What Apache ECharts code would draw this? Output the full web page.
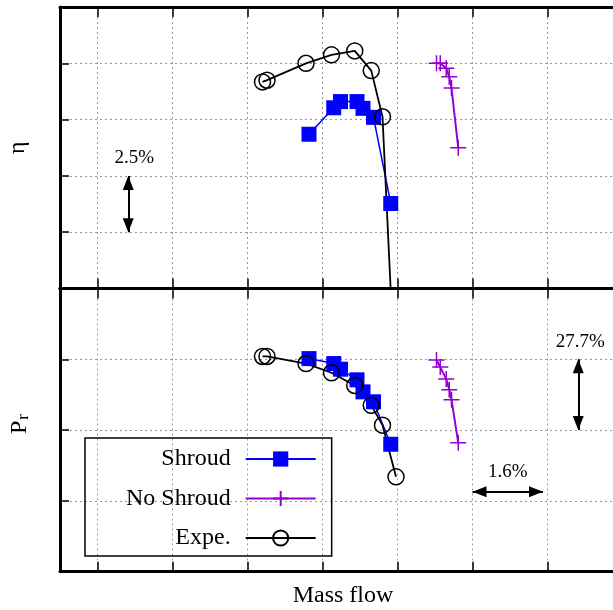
<!DOCTYPE html>
<html>
<head>
<meta charset="utf-8">
<script src="https://cdn.jsdelivr.net/npm/echarts@6/dist/echarts.min.js"></script>
<style>html,body{margin:0;padding:0;background:#fff}#c{width:613px;height:610px}</style>
</head>
<body>
<div id="c"></div>
<script>
// Mass flow (grid units; tick spacing = one unit)
const massFlowExpe = [2.20, 2.26, 2.78, 3.12, 3.43, 3.65, 3.80, 3.98];
const etaExpe      = [3.67, 3.70, 4.00, 4.15, 4.22, 3.87, 3.05, -2.02];
const prExpe       = [3.04, 3.04, 2.94, 2.81, 2.63, 2.35, 2.07, 1.34];

const massFlowShroud = [2.82, 3.15, 3.24, 3.46, 3.54, 3.68, 3.91];
const etaShroud      = [2.74, 3.21, 3.32, 3.32, 3.20, 3.04, 1.51];
const prShroud       = [3.01, 2.94, 2.86, 2.71, 2.54, 2.40, 1.80];

const massFlowNoShroud = [4.52, 4.57, 4.65, 4.69, 4.72, 4.81];
const etaNoShroud      = [4.00, 4.00, 3.91, 3.76, 3.56, 2.50];
const prNoShroud       = [2.99, 2.89, 2.72, 2.57, 2.43, 1.82];

const seriesNames = ['Shroud', 'No Shroud', 'Expe.'];
const scaleLabels = ['2.5%', '27.7%', '1.6%'];

const FONT = 'Liberation Serif';
const zip = (xs, ys) => xs.map((x, i) => [x, ys[i]]);
const CROSS = 'path://M8,0 L8,16 M0,8 L16,8';

function xAxisDef(grid, pos, split) {
  return {
    type: 'value', gridIndex: grid, position: pos,
    min: -0.5, max: 7.5, splitNumber: 8, minInterval: 1, maxInterval: 1,
    axisLine: { onZero: false, lineStyle: { color: '#000', width: 3 } },
    axisTick: { inside: true, length: 10, lineStyle: { color: '#000', width: 1.5 } },
    axisLabel: { show: false },
    splitLine: { show: split, lineStyle: { color: '#999', width: 1, type: [2, 3] } }
  };
}
function yAxisDef(grid, max) {
  return {
    type: 'value', gridIndex: grid, min: 0, max: max, interval: 1,
    axisLine: { onZero: false, lineStyle: { color: '#000', width: 3 } },
    axisTick: { inside: true, length: 9, lineStyle: { color: '#000', width: 1.5 } },
    axisLabel: { show: false },
    splitLine: { show: true, lineStyle: { color: '#999', width: 1, type: [2, 3] } },
    nameLocation: 'middle', nameRotate: 90
  };
}

const mlBase = {
  silent: true,
  symbol: ['triangle', 'triangle'],
  symbolSize: [11, 14],
  symbolOffset: [[0, 7], [0, 7]],
  lineStyle: { color: '#000', width: 2, type: 'solid' },
  label: { color: '#000', fontFamily: FONT, fontSize: 19, distance: 8 }
};

function shroud(grid, ys) {
  return {
    name: seriesNames[0], type: 'line', xAxisIndex: grid * 2, yAxisIndex: grid,
    data: zip(massFlowShroud, ys), symbol: 'rect', symbolSize: 15,
    itemStyle: { color: '#0000ff' }, lineStyle: { color: '#0000ff', width: 1.5 },
    animation: false
  };
}
function noShroud(grid, ys) {
  return {
    name: seriesNames[1], type: 'line', xAxisIndex: grid * 2, yAxisIndex: grid,
    data: zip(massFlowNoShroud, ys), symbol: CROSS, symbolSize: 16,
    itemStyle: { color: 'rgba(0,0,0,0)', borderColor: '#9400d3', borderWidth: 1.5 },
    lineStyle: { color: '#9400d3', width: 2 },
    animation: false
  };
}
function expe(grid, ys, markLine) {
  return {
    name: seriesNames[2], type: 'line', xAxisIndex: grid * 2, yAxisIndex: grid,
    data: zip(massFlowExpe, ys), symbol: 'circle', symbolSize: 16,
    itemStyle: { color: 'rgba(0,0,0,0)', borderColor: '#000', borderWidth: 1.5 },
    lineStyle: { color: '#000', width: 1.8 },
    markLine: markLine, animation: false
  };
}

const chart = echarts.init(document.getElementById('c'), null, { renderer: 'canvas' });
const yTop = yAxisDef(0, 5);
yTop.name = 'η';
yTop.nameGap = 30;
yTop.nameTextStyle = { fontFamily: FONT, fontSize: 24, color: '#000', padding: [0, 0, 0, 0] };
const yBot = yAxisDef(1, 4);
yBot.name = '{p|P}{s|r}';
yBot.nameGap = 28;
yBot.nameTextStyle = {
  color: '#000',
  padding: [0, 0, 0, 12],
  rich: {
    p: { fontFamily: FONT, fontSize: 24, color: '#000', lineHeight: 24, verticalAlign: 'top' },
    s: { fontFamily: FONT, fontSize: 17, color: '#000', lineHeight: 17, padding: [17, 0, 0, 1], verticalAlign: 'bottom' }
  }
};
const xBot = xAxisDef(1, 'bottom', true);
xBot.name = 'Mass flow';
xBot.nameLocation = 'middle';
xBot.nameGap = 12;
xBot.nameTextStyle = { fontFamily: FONT, fontSize: 24, color: '#000', padding: [0, 34, 0, 0], verticalAlign: 'top' };

chart.setOption({
  animation: false,
  backgroundColor: '#fff',
  grid: [
    { left: 60, top: 7, width: 600, height: 281.5, outerBoundsMode: 'none', containLabel: false },
    { left: 60, top: 288.5, width: 600, height: 283.2, outerBoundsMode: 'none', containLabel: false }
  ],
  xAxis: [xAxisDef(0, 'bottom', true), xAxisDef(0, 'top', false), xBot, xAxisDef(1, 'top', false)],
  yAxis: [yTop, yBot],
  legend: {
    data: seriesNames,
    orient: 'vertical', align: 'right',
    left: 85, top: 438,
    itemWidth: 70, itemHeight: 19, itemGap: 15.5,
    padding: [9, 15, 6, 41],
    borderColor: '#000', borderWidth: 1.5,
    textStyle: { fontFamily: FONT, fontSize: 24, color: '#000', padding: [0, 10, 0, 0] },
    selectedMode: false
  },
  series: [
    shroud(0, etaShroud),
    noShroud(0, etaNoShroud),
    expe(0, etaExpe, Object.assign({}, mlBase, {
      data: [[{ coord: [0.41, 1], label: { position: 'end', formatter: scaleLabels[0], padding: [0, 0, 0, 12] } }, { coord: [0.41, 2] }]]
    })),
    shroud(1, prShroud),
    noShroud(1, prNoShroud),
    expe(1, prExpe, Object.assign({}, mlBase, {
      data: [
        [{ coord: [6.41, 2], label: { position: 'end', formatter: scaleLabels[1], padding: [0, 0, 0, 4] } }, { coord: [6.41, 3] }],
        [{ coord: [5.0, 1.13], label: { position: 'middle', formatter: scaleLabels[2], distance: 10 } }, { coord: [5.94, 1.13] }]
      ]
    }))
  ]
});
</script>
</body>
</html>
